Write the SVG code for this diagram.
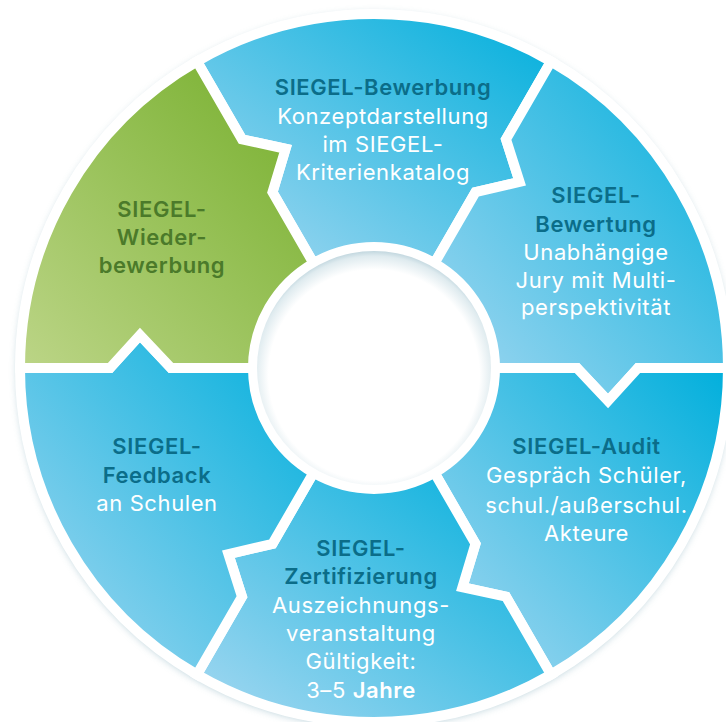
<svg xmlns="http://www.w3.org/2000/svg" width="726" height="722" viewBox="0 0 726 722">
<defs>
  <linearGradient id="gBlue" x1="0" y1="1" x2="1" y2="0">
    <stop offset="0" stop-color="#a6d8f1"/>
    <stop offset="1" stop-color="#00afdc"/>
  </linearGradient>
  <linearGradient id="gGreen" x1="0" y1="1" x2="1" y2="0">
    <stop offset="0" stop-color="#bcd587"/>
    <stop offset="1" stop-color="#74ae2a"/>
  </linearGradient>
  <radialGradient id="gHole" cx="0.5" cy="0.53" r="0.53">
    <stop offset="0.85" stop-color="#ffffff"/>
    <stop offset="0.96" stop-color="#dfebef"/>
    <stop offset="1" stop-color="#c2d7df"/>
  </radialGradient>
  <filter id="shadow" x="-10%" y="-10%" width="120%" height="120%">
    <feGaussianBlur stdDeviation="4"/>
  </filter>
  <style>
    .seg { stroke: #ffffff; stroke-width: 10; stroke-linejoin: miter; stroke-miterlimit: 10; }
    .blue { fill: url(#gBlue); }
    .green { fill: url(#gGreen); }
    text { font-family: Inter, "Liberation Sans", sans-serif; font-size: 22px; text-anchor: middle; letter-spacing: 0.6px; }
    .h { font-weight: 600; fill: #0b6d89; }
    .hg { font-weight: 600; fill: #4b7a2a; }
    .w { fill: #ffffff; }
    .b { font-weight: 600; }
  </style>
</defs>

<circle cx="374" cy="370" r="356" fill="#5e95a8" opacity="0.55" filter="url(#shadow)"/>

<g id="bewerbung">
  <path class="seg blue" d="M313.5,263.21 L272.5,192.2 L285.58,148.85 L242,139.37 L197,61.42 A354,354 0 0 1 551,61.42 L506,139.37 L519.58,181.85 L475.5,192.2 L434.5,263.21 A121,121 0 0 0 313.5,263.21 Z"/>
  <text x="383" y="95" class="h">SIEGEL-Bewerbung</text>
  <text x="383" y="123.5" class="w">Konzeptdarstellung</text>
  <text x="383" y="152" class="w">im SIEGEL-</text>
  <text x="383" y="180" class="w">Kriterienkatalog</text>
</g>

<g id="bewertung">
  <path class="seg blue" d="M434.5,263.21 L475.5,192.2 L519.58,181.85 L506,139.37 L551,61.42 A354,354 0 0 1 728,368 L638,368 L608,401 L577,368 L495,368 A121,121 0 0 0 434.5,263.21 Z"/>
  <text x="596" y="203" class="h">SIEGEL-</text>
  <text x="596" y="232" class="h">Bewertung</text>
  <text x="596" y="260" class="w">Unabhängige</text>
  <text x="596" y="287.5" class="w">Jury mit Multi-</text>
  <text x="596" y="315" class="w">perspektivität</text>
</g>

<g id="audit">
  <path class="seg blue" d="M495,368 L577,368 L608,401 L638,368 L728,368 A354,354 0 0 1 551,674.58 L506,596.63 L462.42,587.15 L475.5,543.8 L434.5,472.79 A121,121 0 0 0 495,368 Z"/>
  <text x="586.5" y="454" class="h">SIEGEL-Audit</text>
  <text x="586.5" y="483" class="w">Gespräch Schüler,</text>
  <text x="586.5" y="512.5" class="w">schul./außerschul.</text>
  <text x="586.5" y="541" class="w">Akteure</text>
</g>

<g id="zertifizierung">
  <path class="seg blue" d="M434.5,472.79 L475.5,543.8 L462.42,587.15 L506,596.63 L551,674.58 A354,354 0 0 1 197,674.58 L242,596.63 L228.42,554.15 L272.5,543.8 L313.5,472.79 A121,121 0 0 0 434.5,472.79 Z"/>
  <text x="361" y="556" class="h">SIEGEL-</text>
  <text x="361" y="584" class="h">Zertifizierung</text>
  <text x="361" y="613" class="w">Auszeichnungs-</text>
  <text x="361" y="641" class="w">veranstaltung</text>
  <text x="361" y="669" class="w">Gültigkeit:</text>
  <text x="361" y="698" class="w">3–5 <tspan class="b">Jahre</tspan></text>
</g>

<g id="feedback">
  <path class="seg blue" d="M313.5,472.79 L272.5,543.8 L228.42,554.15 L242,596.63 L197,674.58 A354,354 0 0 1 20,368 L110,368 L140,335 L171,368 L253,368 A121,121 0 0 0 313.5,472.79 Z"/>
  <text x="157" y="454" class="h">SIEGEL-</text>
  <text x="157" y="483" class="h">Feedback</text>
  <text x="157" y="511" class="w">an Schulen</text>
</g>

<g id="wiederbewerbung">
  <path class="seg green" d="M253,368 L171,368 L140,335 L110,368 L20,368 A354,354 0 0 1 197,61.42 L242,139.37 L285.58,148.85 L272.5,192.2 L313.5,263.21 A121,121 0 0 0 253,368 Z"/>
  <text x="162" y="217" class="hg">SIEGEL-</text>
  <text x="162" y="245" class="hg">Wieder-</text>
  <text x="162" y="273" class="hg">bewerbung</text>
</g>

<g id="center">
  <circle cx="374" cy="368" r="117" fill="url(#gHole)"/>
</g>
</svg>
